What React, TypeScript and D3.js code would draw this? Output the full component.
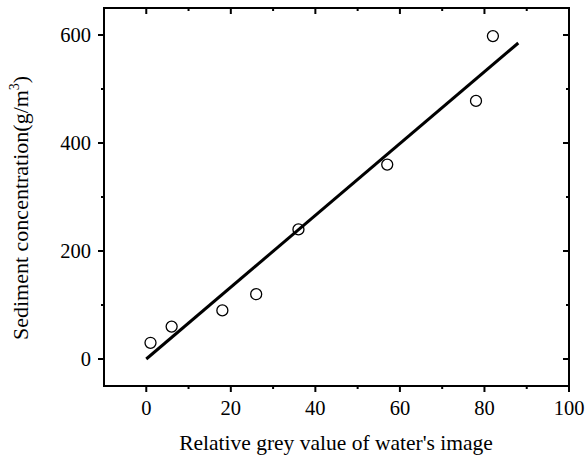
import React from "react";
import * as d3 from "d3";

const xs = [1, 6, 18, 26, 36, 57, 78, 82];
const ys = [30, 60, 90, 120, 240, 360, 478, 598];
const fitX = [0, 88];
const fitSlope = 6.65;
const xTicks = [0, 20, 40, 60, 80, 100];
const xMinor = [-10, 10, 30, 50, 70, 90];
const yTicks = [0, 200, 400, 600];
const yMinor = [100, 300, 500];

export default function App() {
  const W = 587, H = 460;
  const L = 104, R = 569, T = 8, B = 386;
  const x = d3.scaleLinear().domain([-10, 100]).range([L, R]);
  const y = d3.scaleLinear().domain([-50, 650]).range([B, T]);
  const line = d3.line<number>().x((d) => x(d)).y((d) => y(d * fitSlope));
  const font = "'Liberation Serif', 'Times New Roman', serif";
  return (
    <svg width={W} height={H} style={{ position: "absolute", left: 0, top: 0, background: "#fff" }} fontFamily={font}>
      <rect x={L} y={T} width={R - L} height={B - T} fill="none" stroke="#000" strokeWidth={2} />
      {xTicks.map((t) => (
        <g key={"xt" + t}>
          <line x1={x(t)} x2={x(t)} y1={B} y2={B + 6} stroke="#000" strokeWidth={2} />
          <line x1={x(t)} x2={x(t)} y1={T} y2={T + 6} stroke="#000" strokeWidth={2} />
          <text x={x(t)} y={415} textAnchor="middle" fontSize={20.5}>{t}</text>
        </g>
      ))}
      {xMinor.filter((t) => t > -10).map((t) => (
        <g key={"xm" + t}>
          <line x1={x(t)} x2={x(t)} y1={B} y2={B + 3} stroke="#000" strokeWidth={2} />
          <line x1={x(t)} x2={x(t)} y1={T} y2={T + 3} stroke="#000" strokeWidth={2} />
        </g>
      ))}
      {yTicks.map((t) => (
        <g key={"yt" + t}>
          <line x1={L - 6} x2={L} y1={y(t)} y2={y(t)} stroke="#000" strokeWidth={2} />
          <line x1={R - 6} x2={R} y1={y(t)} y2={y(t)} stroke="#000" strokeWidth={2} />
          <text x={91} y={y(t) + 7} textAnchor="end" fontSize={20.5}>{t}</text>
        </g>
      ))}
      {yMinor.map((t) => (
        <g key={"ym" + t}>
          <line x1={L - 3} x2={L} y1={y(t)} y2={y(t)} stroke="#000" strokeWidth={2} />
          <line x1={R - 3} x2={R} y1={y(t)} y2={y(t)} stroke="#000" strokeWidth={2} />
        </g>
      ))}
      <path d={line(fitX) || ""} fill="none" stroke="#000" strokeWidth={3} />
      {xs.map((v, i) => (
        <circle key={i} cx={x(v)} cy={y(ys[i])} r={5.5} fill="none" stroke="#000" strokeWidth={1.3} />
      ))}
      <text x={336} y={450} textAnchor="middle" fontSize={21.5}>
        Relative grey value of water's image
      </text>
      <text transform="translate(28,340) rotate(-90)" textAnchor="start" fontSize={22}>
        Sediment concentration(g/m<tspan dy={-9} fontSize={14}>3</tspan><tspan dy={9}>)</tspan>
      </text>
    </svg>
  );
}
